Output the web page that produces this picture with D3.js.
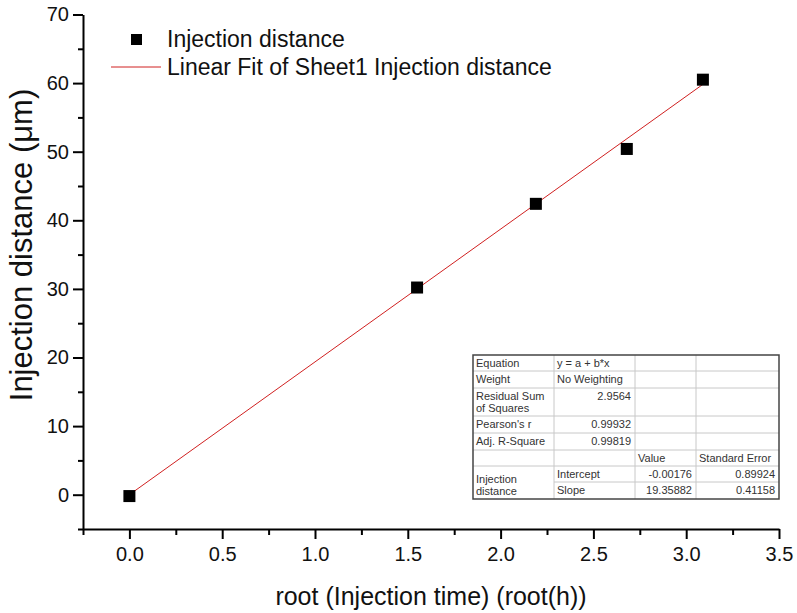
<!DOCTYPE html>
<html>
<head>
<meta charset="utf-8">
<script src="https://cdn.jsdelivr.net/npm/d3@7"></script>
<style>
  body { margin: 0; background: #fff; }
  svg text { font-family: "Liberation Sans", Arial, sans-serif; }
</style>
</head>
<body>
<div class="chart"></div>
<script>
// data
const rootTime = [0, 1.55, 2.19, 2.68, 3.09];
const distance = [-0.2, 30.2, 42.4, 50.4, 60.5];
const fitIntercept = -0.00176;
const fitSlope = 19.35882;

const xTicks = [0, 0.5, 1, 1.5, 2, 2.5, 3, 3.5];
const xMinor = [-0.25, 0.25, 0.75, 1.25, 1.75, 2.25, 2.75, 3.25];
const yTicks = [0, 10, 20, 30, 40, 50, 60, 70];
const yMinor = [-5, 5, 15, 25, 35, 45, 55, 65];

const legendLabels = ['Injection distance', 'Linear Fit of Sheet1 Injection distance'];

// fit table rows: [label, col2, col3, col4]
const tableRows = [
  ['Equation', 'y = a + b*x', '', ''],
  ['Weight', 'No Weighting', '', ''],
  ['Residual Sum\nof Squares', '2.9564', '', ''],
  ["Pearson's r", '0.99932', '', ''],
  ['Adj. R-Square', '0.99819', '', ''],
  ['', '', 'Value', 'Standard Error'],
  ['Injection\ndistance', 'Intercept', '-0.00176', '0.89924'],
  ['', 'Slope', '19.35882', '0.41158']
];

const width = 797, height = 613;
const x = d3.scaleLinear().domain([-0.25, 3.5]).range([83, 779]);
const y = d3.scaleLinear().domain([-5, 70]).range([529, 14.5]);

const svg = d3.select('.chart').append('svg')
  .attr('width', width).attr('height', height);

// axes
function drawAxes() {
  const gx = svg.append('g').attr('transform', 'translate(0,529)');
  gx.call(d3.axisBottom(x).tickValues(xTicks).tickSize(10).tickPadding(8)
    .tickSizeOuter(0).tickFormat(d3.format('.1f')));
  gx.append('g').call(d3.axisBottom(x).tickValues(xMinor).tickSize(6).tickFormat(''))
    .select('.domain').remove();

  const gy = svg.append('g').attr('transform', 'translate(83,0)');
  gy.call(d3.axisLeft(y).tickValues(yTicks).tickSize(10).tickPadding(4).tickSizeOuter(0));
  gy.append('g').call(d3.axisLeft(y).tickValues(yMinor).tickSize(5).tickFormat(''))
    .select('.domain').remove();

  svg.selectAll('.domain').attr('stroke', '#000').attr('stroke-width', 2);
  svg.selectAll('.tick line').attr('stroke', '#000').attr('stroke-width', 2);
  svg.selectAll('.tick text').attr('font-size', 20).attr('fill', '#111');

  svg.append('text')
    .attr('x', 431).attr('y', 605)
    .attr('text-anchor', 'middle').attr('font-size', 25).attr('fill', '#111')
    .text('root (Injection time) (root(h))');
  svg.append('text')
    .attr('transform', 'translate(32,245) rotate(-90)')
    .attr('text-anchor', 'middle').attr('font-size', 31).attr('fill', '#111')
    .text('Injection distance (μm)');
}

// linear fit and points
function drawData() {
  const xs = d3.extent(rootTime);
  svg.append('line')
    .attr('x1', x(xs[0])).attr('y1', y(fitIntercept + fitSlope * xs[0]))
    .attr('x2', x(xs[1])).attr('y2', y(fitIntercept + fitSlope * xs[1]))
    .attr('stroke', '#d02020').attr('stroke-width', 1);

  svg.selectAll('.pt').data(rootTime).enter().append('rect')
    .attr('class', 'pt')
    .attr('x', (d) => x(d) - 6)
    .attr('y', (d, i) => y(distance[i]) - 6)
    .attr('width', 12).attr('height', 12)
    .attr('fill', '#000');
}

function drawLegend() {
  svg.append('rect').attr('x', 131).attr('y', 34).attr('width', 11).attr('height', 11).attr('fill', '#000');
  svg.append('line').attr('x1', 111).attr('x2', 161).attr('y1', 67).attr('y2', 67)
    .attr('stroke', '#d02020').attr('stroke-width', 1);
  svg.selectAll('.leg').data(legendLabels).enter().append('text')
    .attr('class', 'leg')
    .attr('x', 167).attr('y', (d, i) => 47 + i * 28)
    .attr('font-size', 23).attr('fill', '#111')
    .text((d) => d);
}

function drawTable() {
  const colX = [473, 554, 635, 696, 779];
  const rowH = [16, 17, 28, 17, 17, 16, 16, 17];
  const top = 355;
  const rowY = [top];
  rowH.forEach((h) => rowY.push(rowY[rowY.length - 1] + h));

  const g = svg.append('g').attr('font-size', 11).attr('fill', '#333');
  g.append('rect').attr('x', colX[0]).attr('y', top)
    .attr('width', colX[4] - colX[0]).attr('height', rowY[rowY.length - 1] - top)
    .attr('fill', '#fff');

  // inner grid
  const grid = g.append('g').attr('stroke', '#c8c8c8').attr('stroke-width', 1);
  for (let r = 1; r < rowH.length; r++) {
    const x0 = r === 7 ? colX[1] : colX[0];
    grid.append('line').attr('x1', x0).attr('x2', colX[4]).attr('y1', rowY[r]).attr('y2', rowY[r]);
  }
  for (let c = 1; c < 4; c++) {
    grid.append('line').attr('x1', colX[c]).attr('x2', colX[c]).attr('y1', top).attr('y2', rowY[rowY.length - 1]);
  }

  g.append('rect').attr('x', colX[0]).attr('y', top)
    .attr('width', colX[4] - colX[0]).attr('height', rowY[rowY.length - 1] - top)
    .attr('fill', 'none').attr('stroke', '#444').attr('stroke-width', 1.5);

  tableRows.forEach((row, r) => {
    row.forEach((cell, c) => {
      if (!cell) return;
      const isNum = /^-?[0-9.]+$/.test(cell);
      const tx = isNum ? colX[c + 1] - 4 : colX[c] + 3;
      const t = g.append('text')
        .attr('y', rowY[r] + 12)
        .attr('text-anchor', isNum ? 'end' : 'start');
      cell.split('\n').forEach((line, k) => {
        // the spanning label in the last block sits a little lower
        const first = (r === 6 && c === 0) ? 5 : 0;
        t.append('tspan').attr('x', tx)
          .attr('dy', k === 0 ? first : 12).text(line);
      });
    });
  });
}

drawAxes();
drawData();
drawLegend();
drawTable();
</script>
</body>
</html>
